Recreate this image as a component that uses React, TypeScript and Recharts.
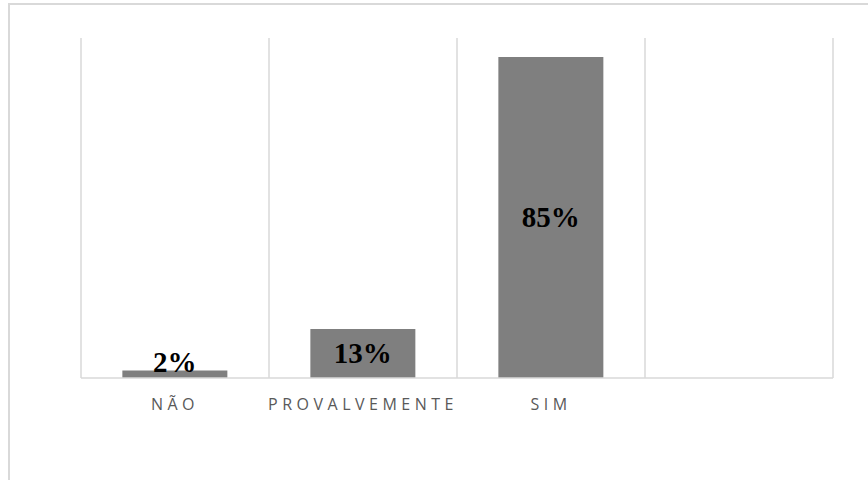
import { BarChart, Bar, XAxis, YAxis, CartesianGrid, LabelList } from "recharts";

const categorias = ["NÃO", "PROVALVEMENTE", "SIM", ""];
const percentuais = [2, 13, 85, null];

const dados = categorias.map((categoria, i) => ({
  categoria,
  valor: percentuais[i],
}));

// rótulo em negrito no meio da barra; barras baixas empurram o texto para cima
function RotuloValor(props: any) {
  const { x, y, width, height, value } = props;
  if (value == null) return null;
  const base = y + height;
  const cy = Math.min(y + height / 2, base - 16);
  return (
    <text
      x={x + width / 2}
      y={cy}
      textAnchor="middle"
      dominantBaseline="central"
      fontFamily="'Liberation Serif', 'Times New Roman', serif"
      fontWeight="bold"
      fontSize={29}
      fill="#000000"
    >
      {`${value}%`}
    </text>
  );
}

export default function App() {
  return (
    <div
      style={{
        position: "absolute",
        left: 0,
        top: 0,
        width: 868,
        height: 480,
        background: "#ffffff",
        overflow: "hidden",
      }}
    >
      <div
        style={{
          position: "absolute",
          left: 8,
          top: 3,
          width: 900,
          height: 520,
          border: "2px solid #d9d9d9",
        }}
      />
      <BarChart
        width={868}
        height={480}
        data={dados}
        margin={{ top: 38, right: 35, bottom: 72, left: 81 }}
        barCategoryGap="22%"
        style={{ position: "absolute", left: 0, top: 0 }}
      >
        <CartesianGrid
          horizontal={false}
          stroke="#d9d9d9"
          strokeWidth={1.5}
          verticalCoordinatesGenerator={({ offset }: any) =>
            categorias
              .concat([""])
              .map((_, i) => offset.left + (i * offset.width) / categorias.length)
          }
        />
        <XAxis
          dataKey="categoria"
          height={30}
          axisLine={{ stroke: "#d9d9d9", strokeWidth: 1.5 }}
          tickLine={false}
          tickMargin={15}
          tick={{
            fill: "#595959",
            fontSize: 16,
            fontFamily: "'Open Sans', sans-serif",
            letterSpacing: 4.5,
          }}
        />
        <YAxis hide domain={[0, 90]} />
        <Bar dataKey="valor" fill="#7f7f7f" isAnimationActive={false}>
          <LabelList dataKey="valor" content={RotuloValor} />
        </Bar>
      </BarChart>
    </div>
  );
}
